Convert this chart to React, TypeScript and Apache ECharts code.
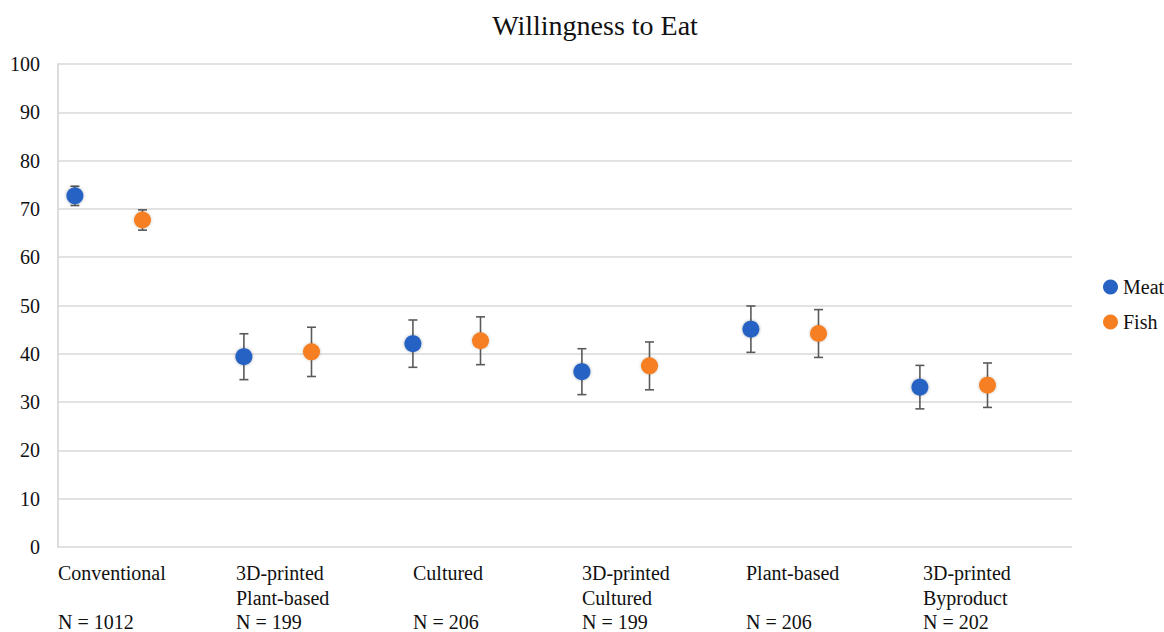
import React, { useEffect, useRef } from "react";
import * as echarts from "echarts";

const categoryLine1 = ["Conventional", "3D-printed", "Cultured", "3D-printed", "Plant-based", "3D-printed"];
const categoryLine2 = ["", "Plant-based", "", "Cultured", "", "Byproduct"];
const sampleSizes = [1012, 199, 206, 199, 206, 202];
const meatMean = [72.7, 39.4, 42.1, 36.3, 45.1, 33.1];
const meatErr = [2.0, 4.75, 4.9, 4.75, 4.8, 4.5];
const fishMean = [67.7, 40.4, 42.7, 37.5, 44.2, 33.5];
const fishErr = [2.1, 5.1, 4.95, 4.95, 4.95, 4.6];
const yTicks = [0, 10, 20, 30, 40, 50, 60, 70, 80, 90, 100];

const MEAT_OFFSET = 0;
const FISH_OFFSET = 0.4;
const labelLeft = [58, 236, 413, 582, 746, 923];
const FONT = "Liberation Serif";
const BLUE = "#2662c3";
const ORANGE = "#f57f20";

function errorRender(params: any, api: any) {
  const x = api.value(0);
  const lo = api.coord([x, api.value(1)]);
  const hi = api.coord([x, api.value(2)]);
  const cap = 4.5;
  const style = { stroke: "#5a5a5a", lineWidth: 1.6 };
  return {
    type: "group",
    children: [
      { type: "line", shape: { x1: lo[0], y1: lo[1], x2: hi[0], y2: hi[1] }, style },
      { type: "line", shape: { x1: lo[0] - cap, y1: lo[1], x2: lo[0] + cap, y2: lo[1] }, style },
      { type: "line", shape: { x1: hi[0] - cap, y1: hi[1], x2: hi[0] + cap, y2: hi[1] }, style },
    ],
  };
}

export default function App() {
  const ref = useRef<HTMLDivElement>(null);
  useEffect(() => {
    if (!ref.current) return;
    const chart = echarts.init(ref.current, null, { renderer: "svg" });
    const meatPts = meatMean.map((v, i) => [i + MEAT_OFFSET, v]);
    const fishPts = fishMean.map((v, i) => [i + FISH_OFFSET, v]);
    const meatBars = meatMean.map((v, i) => [i + MEAT_OFFSET, v - meatErr[i], v + meatErr[i]]);
    const fishBars = fishMean.map((v, i) => [i + FISH_OFFSET, v - fishErr[i], v + fishErr[i]]);

    const labelGraphics = categoryLine1.map((l1, i) => ({
      type: "text",
      left: labelLeft[i],
      top: 561,
      style: {
        text: `${l1}\n${categoryLine2[i]}\nN = ${sampleSizes[i]}`,
        fontFamily: FONT,
        fontSize: 20,
        lineHeight: 24.5,
        fill: "#111",
        textAlign: "left",
      },
    }));

    chart.setOption({
      animation: false,
      backgroundColor: "#fff",
      title: {
        text: "Willingness to Eat",
        left: 590,
        top: 6,
        textAlign: "center",
        textStyle: { fontFamily: FONT, fontSize: 28, fontWeight: "normal", color: "#111" },
      },
      grid: { left: 58, right: 92, top: 64, bottom: 85 },
      legend: {
        orient: "vertical",
        left: 1098,
        top: 272,
        itemWidth: 15,
        itemHeight: 15,
        itemGap: 15,
        icon: "circle",
        data: ["Meat", "Fish"],
        textStyle: { fontFamily: FONT, fontSize: 20, color: "#111" },
      },
      xAxis: {
        type: "value",
        min: -0.1,
        max: 5.9,
        show: false,
        splitLine: { show: false },
      },
      yAxis: {
        type: "value",
        min: yTicks[0],
        max: yTicks[yTicks.length - 1],
        interval: 10,
        axisLine: { show: true, onZero: false, lineStyle: { color: "#d0d0d0", width: 1.5 } },
        axisTick: { show: false },
        axisLabel: { fontFamily: FONT, fontSize: 20, color: "#111", margin: 18 },
        splitLine: { lineStyle: { color: "#d9d9d9", width: 1.5 } },
      },
      series: [
        {
          type: "custom",
          name: "MeatErr",
          renderItem: errorRender,
          data: meatBars,
          z: 1,
          silent: true,
        },
        {
          type: "custom",
          name: "FishErr",
          renderItem: errorRender,
          data: fishBars,
          z: 1,
          silent: true,
        },
        {
          type: "scatter",
          name: "Meat",
          data: meatPts,
          symbolSize: 17,
          itemStyle: { color: BLUE, opacity: 1, shadowBlur: 3, shadowColor: "rgba(0,0,0,0.35)" },
          z: 3,
        },
        {
          type: "scatter",
          name: "Fish",
          data: fishPts,
          symbolSize: 17,
          itemStyle: { color: ORANGE, opacity: 1, shadowBlur: 3, shadowColor: "rgba(0,0,0,0.25)" },
          z: 3,
        },
      ],
      graphic: labelGraphics,
    });
    return () => chart.dispose();
  }, []);
  return (
    <div
      ref={ref}
      style={{ position: "fixed", left: 0, top: 0, width: 1164, height: 632, background: "#fff" }}
    />
  );
}
